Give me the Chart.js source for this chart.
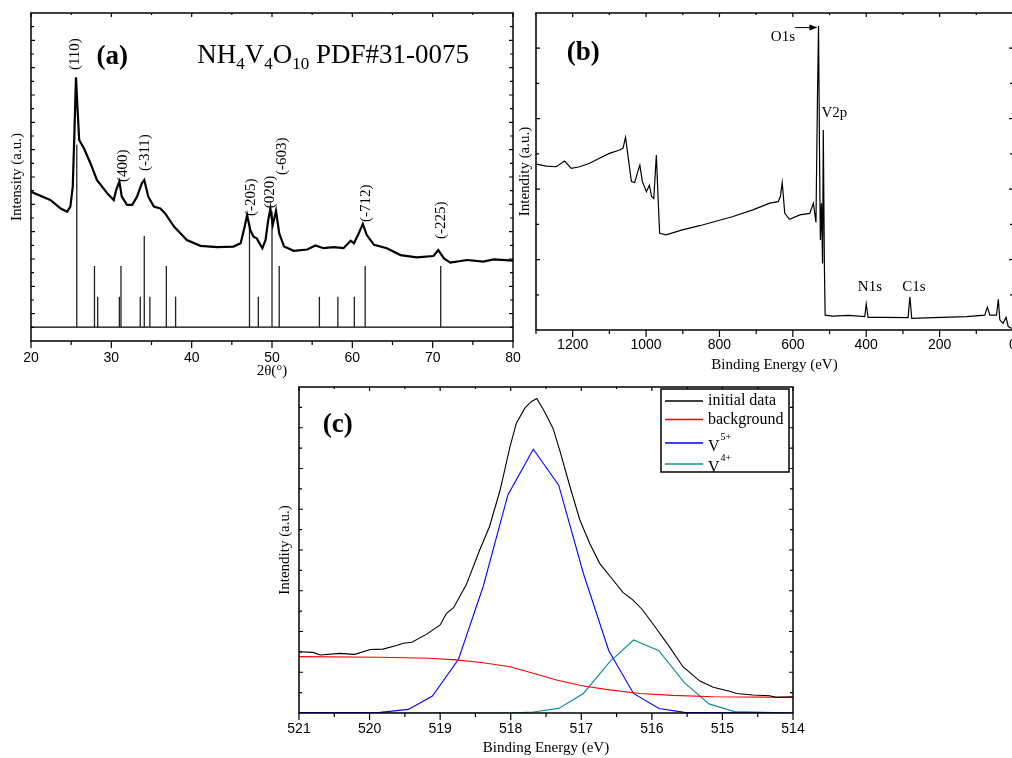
<!DOCTYPE html>
<html>
<head>
<meta charset="utf-8">
<script src="https://cdn.jsdelivr.net/npm/chart.js@4.4.1/dist/chart.umd.min.js"></script>
<style>
  html, body { margin: 0; padding: 0; width: 1012px; height: 758px; overflow: hidden; background: #fff; }
  canvas { position: absolute; }
  #cA { left: 0; top: 0; }
  #cB { left: 500px; top: 0; }
  #cC { left: 270px; top: 380px; }
</style>
</head>
<body>
<canvas id="cA" width="530" height="380"></canvas>
<canvas id="cB" width="530" height="380"></canvas>
<canvas id="cC" width="540" height="378"></canvas>
<script>
// (a) XRD pattern
const xrdTheta = [20.0, 22.4, 23.7, 24.5, 24.9, 25.2, 25.4, 25.6, 25.8, 26.0, 26.6, 27.4, 28.2, 29.5, 30.3, 30.6, 31.0, 31.3, 31.95, 32.6, 33.2, 33.8, 34.1, 34.6, 35.3, 36.1, 36.7, 37.8, 39.4, 41.1, 43.2, 45.2, 46.1, 46.6, 46.9, 47.3, 47.7, 48.1, 48.8, 49.2, 49.5, 49.8, 50.1, 50.5, 50.9, 51.5, 52.7, 54.4, 55.4, 56.4, 57.7, 58.9, 59.8, 60.2, 60.8, 61.3, 61.8, 62.7, 64.3, 66.0, 68.0, 70.1, 70.7, 71.4, 72.2, 74.3, 76.3, 77.6, 80.0];
const xrdIntensity = [455, 430, 404, 394, 410, 471, 633, 804, 704, 613, 587, 542, 491, 450, 430, 460, 486, 440, 415, 415, 440, 481, 491, 440, 410, 404, 389, 349, 308, 290, 286, 288, 298, 349, 384, 338, 318, 313, 283, 308, 364, 404, 354, 397, 328, 288, 275, 279, 291, 283, 286, 283, 306, 298, 328, 357, 323, 293, 283, 262, 255, 259, 277, 252, 239, 247, 242, 249, 245];
// PDF#31-0075 reference lines
const stickTheta = [25.7, 27.9, 28.3, 31.0, 31.2, 33.6, 34.1, 34.8, 36.85, 38.0, 47.2, 48.3, 50.0, 50.9, 55.9, 58.2, 60.25, 61.6, 71.0];
const stickHeight = [598, 229, 135, 135, 229, 135, 320, 135, 229, 135, 360, 135, 395, 229, 135, 135, 135, 229, 229];
const stickBase = 42;
const hklText = ['(110)', '(400)', '(-311)', '(-205)', '(020)', '(-603)', '(-712)', '(-225)'];
const hklTheta = [25.5, 31.5, 34.2, 47.4, 49.8, 51.2, 61.7, 71.0];
const hklBase = [826, 485, 518, 381, 405, 506, 363, 311];
const xrdMajor = [20, 30, 40, 50, 60, 70, 80];
const xrdMinor = [25, 35, 45, 55, 65, 75];

// (b) XPS survey
const surveyBE = [1299, 1272, 1245, 1222, 1204, 1181, 1154, 1127, 1100, 1072, 1063, 1056, 1049, 1040, 1031, 1024, 1017, 1010, 999, 991, 985, 979, 972, 967, 963, 945, 904, 854, 763, 709, 663, 640, 634, 629, 622, 609, 581, 554, 544, 537, 533, 530, 527, 525, 522, 519, 517, 514, 512, 492, 447, 404, 400, 395, 354, 286, 281, 276, 217, 127, 77, 70, 63, 45, 40, 36, 27, 19, 13, 3];
const surveyCounts = [523, 517, 515, 533, 510, 515, 526, 542, 557, 568, 573, 608, 547, 468, 465, 494, 520, 468, 436, 457, 421, 415, 552, 410, 305, 300, 315, 329, 358, 379, 400, 405, 421, 465, 368, 349, 363, 368, 400, 339, 726, 959, 515, 284, 400, 210, 631, 200, 47, 44, 46, 42, 82, 40, 40, 39, 105, 37, 39, 42, 47, 72, 47, 47, 97, 32, 21, 40, 11, 5];
const surveyMajor = [0, 200, 400, 600, 800, 1000, 1200];
const surveyMinor = [100, 300, 500, 700, 900, 1100, 1300];

// (c) V2p high resolution
const hrBE = [521.0, 520.8, 520.7, 520.42, 520.21, 519.99, 519.81, 519.62, 519.52, 519.40, 519.19, 519.0, 518.91, 518.81, 518.63, 518.44, 518.30, 518.15, 518.01, 517.92, 517.80, 517.71, 517.63, 517.52, 517.40, 517.30, 517.16, 517.02, 516.88, 516.74, 516.55, 516.41, 516.27, 516.13, 515.94, 515.75, 515.56, 515.32, 515.13, 514.90, 514.80, 514.57, 514.33, 514.24, 514.0];
const hrInitial = [188, 186, 178, 183, 180, 195, 196, 207, 214, 217, 242, 270, 306, 323, 393, 500, 572, 684, 817, 889, 935, 955, 965, 924, 873, 802, 694, 592, 520, 459, 408, 370, 347, 316, 260, 203, 142, 98, 79, 67, 60, 55, 53, 48, 50];
const bgBE = [521.0, 519.85, 519.15, 518.77, 518.39, 518.01, 517.68, 517.35, 516.97, 516.6, 516.17, 515.70, 515.13, 514.0];
const bgCounts = [173, 171, 168, 163, 154, 142, 122, 101, 83, 71, 60, 54, 50, 48];
const v5BE = [521.0, 519.85, 519.45, 519.11, 518.74, 518.39, 518.04, 517.68, 517.32, 516.97, 516.61, 516.26, 515.90, 515.54, 514.0];
const v5Counts = [1, 2, 11, 52, 165, 388, 669, 809, 699, 428, 191, 60, 14, 2, 0];
const v4BE = [521.0, 518.04, 517.68, 517.32, 516.97, 516.61, 516.26, 515.90, 515.54, 515.19, 514.83, 514.0];
const v4Counts = [0, 0, 3, 14, 60, 154, 224, 191, 93, 28, 4, 0];
const hrMajor = [514, 515, 516, 517, 518, 519, 520, 521];
const hrMinor = [514.5, 515.5, 516.5, 517.5, 518.5, 519.5, 520.5];

const serif = '"Liberation Serif", "Times New Roman", serif';
const sans = '"Liberation Sans", Arial, sans-serif';

const pts = (xs, ys) => xs.map((x, i) => ({ x, y: ys[i] }));

function stickPoints() {
  const out = [];
  stickTheta.forEach((t, i) => {
    out.push({ x: t, y: stickBase }, { x: t, y: stickHeight[i] }, { x: t, y: null });
  });
  return out;
}

// box, inward ticks on left/right/top, outward ticks at the bottom
function framePlugin(major, minor, yDiv) {
  return {
    id: 'frame',
    afterDatasetsDraw(chart) {
      const { ctx, chartArea: a, scales: { x, y } } = chart;
      ctx.save();
      ctx.strokeStyle = '#000';
      ctx.lineWidth = 1.5;
      ctx.strokeRect(a.left, a.top, a.right - a.left, a.bottom - a.top);
      ctx.lineWidth = 1.2;
      ctx.beginPath();
      major.forEach(v => {
        const px = x.getPixelForValue(v);
        ctx.moveTo(px, a.bottom); ctx.lineTo(px, a.bottom + 7);
        ctx.moveTo(px, a.top); ctx.lineTo(px, a.top + 4);
      });
      minor.forEach(v => {
        const px = x.getPixelForValue(v);
        ctx.moveTo(px, a.bottom); ctx.lineTo(px, a.bottom + 4);
        ctx.moveTo(px, a.top); ctx.lineTo(px, a.top + 2);
      });
      for (let i = 1; i < yDiv; i++) {
        const py = y.getPixelForValue(y.min + (y.max - y.min) * i / yDiv);
        const len = i % 2 ? 3 : 4;
        ctx.moveTo(a.left, py); ctx.lineTo(a.left + len, py);
        ctx.moveTo(a.right, py); ctx.lineTo(a.right - len, py);
      }
      ctx.stroke();
      ctx.restore();
    }
  };
}

// text labels and arrows placed in data coordinates
const notesPlugin = {
  id: 'notes',
  afterDraw(chart, args, o) {
    const { ctx, scales: { x, y } } = chart;
    (o.items || []).forEach(n => {
      ctx.save();
      ctx.fillStyle = '#000';
      ctx.strokeStyle = '#000';
      if (n.arrow) {
        const x1 = x.getPixelForValue(n.x1), y1 = y.getPixelForValue(n.y1);
        const x2 = x.getPixelForValue(n.x2), y2 = y.getPixelForValue(n.y2);
        ctx.lineWidth = 1;
        ctx.beginPath(); ctx.moveTo(x1, y1); ctx.lineTo(x2 - 6, y2); ctx.stroke();
        ctx.beginPath(); ctx.moveTo(x2, y2); ctx.lineTo(x2 - 8, y2 - 3); ctx.lineTo(x2 - 8, y2 + 3); ctx.closePath(); ctx.fill();
        ctx.restore();
        return;
      }
      ctx.translate(x.getPixelForValue(n.x), y.getPixelForValue(n.y));
      if (n.rotate) ctx.rotate(-Math.PI / 2);
      ctx.textBaseline = n.baseline || 'middle';
      if (n.parts) {
        ctx.textAlign = 'left';
        let cx = 0;
        n.parts.forEach(([t, sub]) => {
          ctx.font = sub ? n.subFont : n.font;
          ctx.fillText(t, cx, sub ? 6 : 0);
          cx += ctx.measureText(t).width;
        });
      } else {
        ctx.font = n.font;
        ctx.textAlign = n.align || 'center';
        ctx.fillText(n.text, 0, 0);
      }
      ctx.restore();
    });
  }
};

// framed legend with superscript charges
const boxLegendPlugin = {
  id: 'boxLegend',
  afterDraw(chart, args, o) {
    if (!o.rows) return;
    const { ctx, chartArea: a } = chart;
    const bx = a.right - o.right - o.width, by = a.top + o.top;
    ctx.save();
    ctx.fillStyle = '#fff';
    ctx.fillRect(bx, by, o.width, o.height);
    ctx.strokeStyle = '#000';
    ctx.lineWidth = 1.5;
    ctx.strokeRect(bx, by, o.width, o.height);
    chart.data.datasets.forEach((ds, i) => {
      const ry = by + o.rows[i];
      ctx.strokeStyle = ds.borderColor;
      ctx.lineWidth = 1.4;
      ctx.beginPath(); ctx.moveTo(bx + 4, ry); ctx.lineTo(bx + 42, ry); ctx.stroke();
      ctx.fillStyle = '#000';
      ctx.textAlign = 'left';
      ctx.textBaseline = 'middle';
      const m = /^(V)(\d\+)$/.exec(ds.label);
      if (m) {
        ctx.font = '16px ' + serif;
        ctx.fillText(m[1], bx + 47, ry + 4);
        const w = ctx.measureText(m[1]).width;
        ctx.font = '10px ' + serif;
        ctx.fillText(m[2], bx + 47 + w + 1, ry - 6);
      } else {
        ctx.font = '16px ' + serif;
        ctx.fillText(ds.label, bx + 47, ry);
      }
    });
    ctx.restore();
  }
};

function xAxis(min, max, reverse, tickList, title, labelPad, titlePad, height) {
  return {
    type: 'linear', min, max, reverse,
    afterBuildTicks: s => { s.ticks = tickList.map(v => ({ value: v })); },
    afterFit: s => { s.height = height; },
    grid: { display: false, drawTicks: false },
    border: { display: false },
    ticks: { color: '#000', font: { family: sans, size: 14 }, padding: labelPad, maxRotation: 0, autoSkip: false, callback: v => String(v) },
    title: { display: true, text: title, color: '#000', font: { family: serif, size: 15 }, padding: { top: 0, bottom: titlePad } }
  };
}

function yAxis(title, titlePad, width) {
  return {
    type: 'linear', min: 0, max: 1000,
    afterFit: s => { s.width = width; },
    grid: { display: false, drawTicks: false },
    border: { display: false },
    ticks: { display: false },
    title: { display: true, text: title, color: '#000', font: { family: serif, size: 15 }, padding: { top: titlePad, bottom: 0 } }
  };
}

const lineStyle = { pointRadius: 0, tension: 0, fill: false, spanGaps: false };

// ---------- (a) ----------
new Chart(document.getElementById('cA'), {
  type: 'line',
  data: {
    datasets: [
      { label: 'XRD', data: pts(xrdTheta, xrdIntensity), borderColor: '#000', borderWidth: 2.2, ...lineStyle },
      { label: 'PDF', data: stickPoints(), borderColor: '#222', borderWidth: 1.3, ...lineStyle },
      { label: 'base', data: pts([20, 80], [stickBase, stickBase]), borderColor: '#000', borderWidth: 1.3, ...lineStyle }
    ]
  },
  options: {
    responsive: false, animation: false, events: [],
    layout: { padding: { top: 13, right: 17, left: 0, bottom: 0 } },
    scales: {
      x: xAxis(20, 80, false, xrdMajor, '2θ(°)', 9, 0, 39),
      y: yAxis('Intensity (a.u.)', 8, 31)
    },
    plugins: {
      legend: { display: false }, tooltip: { enabled: false },
      notes: {
        items: [
          { x: 30.1, y: 866, text: '(a)', font: 'bold 27px ' + serif },
          { x: 40.7, y: 848, baseline: 'alphabetic', font: '27px ' + serif, subFont: '17px ' + serif,
            parts: [['NH'], ['4', 1], ['V'], ['4', 1], ['O'], ['10', 1], [' PDF#31-0075']] },
          ...hklText.map((t, i) => ({ x: hklTheta[i], y: hklBase[i], text: t, rotate: true, align: 'left', font: '15px ' + serif }))
        ]
      }
    }
  },
  plugins: [framePlugin(xrdMajor, xrdMinor, 24), notesPlugin]
});

// ---------- (b) ----------
new Chart(document.getElementById('cB'), {
  type: 'line',
  data: {
    datasets: [
      { label: 'survey', data: pts(surveyBE, surveyCounts), borderColor: '#000', borderWidth: 1.2, ...lineStyle }
    ]
  },
  options: {
    responsive: false, animation: false, events: [],
    layout: { padding: { top: 13, right: 17, left: 0, bottom: 0 } },
    scales: {
      x: xAxis(0, 1300, true, surveyMajor, 'Binding Energy (eV)', 7, 6, 50),
      y: yAxis('Intendity (a.u.)', 16, 36)
    },
    plugins: {
      legend: { display: false }, tooltip: { enabled: false },
      notes: {
        items: [
          { x: 1171, y: 874, text: '(b)', font: 'bold 27px ' + serif },
          { x: 627, y: 923, text: 'O1s', font: '15px ' + serif },
          { arrow: true, x1: 594, y1: 954, x2: 533, y2: 954 },
          { x: 522, y: 685, text: 'V2p', align: 'left', font: '15px ' + serif },
          { x: 390, y: 136, text: 'N1s', font: '15px ' + serif },
          { x: 270, y: 136, text: 'C1s', font: '15px ' + serif }
        ]
      }
    }
  },
  plugins: [framePlugin(surveyMajor, surveyMinor, 9), notesPlugin]
});

// ---------- (c) ----------
new Chart(document.getElementById('cC'), {
  type: 'line',
  data: {
    datasets: [
      { label: 'initial data', data: pts(hrBE, hrInitial), borderColor: '#000000', borderWidth: 1.1, ...lineStyle },
      { label: 'background', data: pts(bgBE, bgCounts), borderColor: '#ff0000', borderWidth: 1.1, ...lineStyle },
      { label: 'V5+', data: pts(v5BE, v5Counts), borderColor: '#0000ff', borderWidth: 1.1, ...lineStyle },
      { label: 'V4+', data: pts(v4BE, v4Counts), borderColor: '#109090', borderWidth: 1.2, ...lineStyle }
    ]
  },
  options: {
    responsive: false, animation: false, events: [],
    layout: { padding: { top: 7, right: 17, left: 0, bottom: 0 } },
    scales: {
      x: xAxis(514, 521, true, hrMajor, 'Binding Energy (eV)', 8, 1, 45),
      y: yAxis('Intendity (a.u.)', 6, 29)
    },
    plugins: {
      legend: { display: false }, tooltip: { enabled: false },
      notes: {
        items: [
          { x: 520.45, y: 883, text: '(c)', font: 'bold 27px ' + serif }
        ]
      },
      boxLegend: { right: 4, top: 2, width: 128, height: 83, rows: [12, 30.5, 54, 75] }
    }
  },
  plugins: [framePlugin(hrMajor, hrMinor, 16), notesPlugin, boxLegendPlugin]
});
</script>
</body>
</html>
